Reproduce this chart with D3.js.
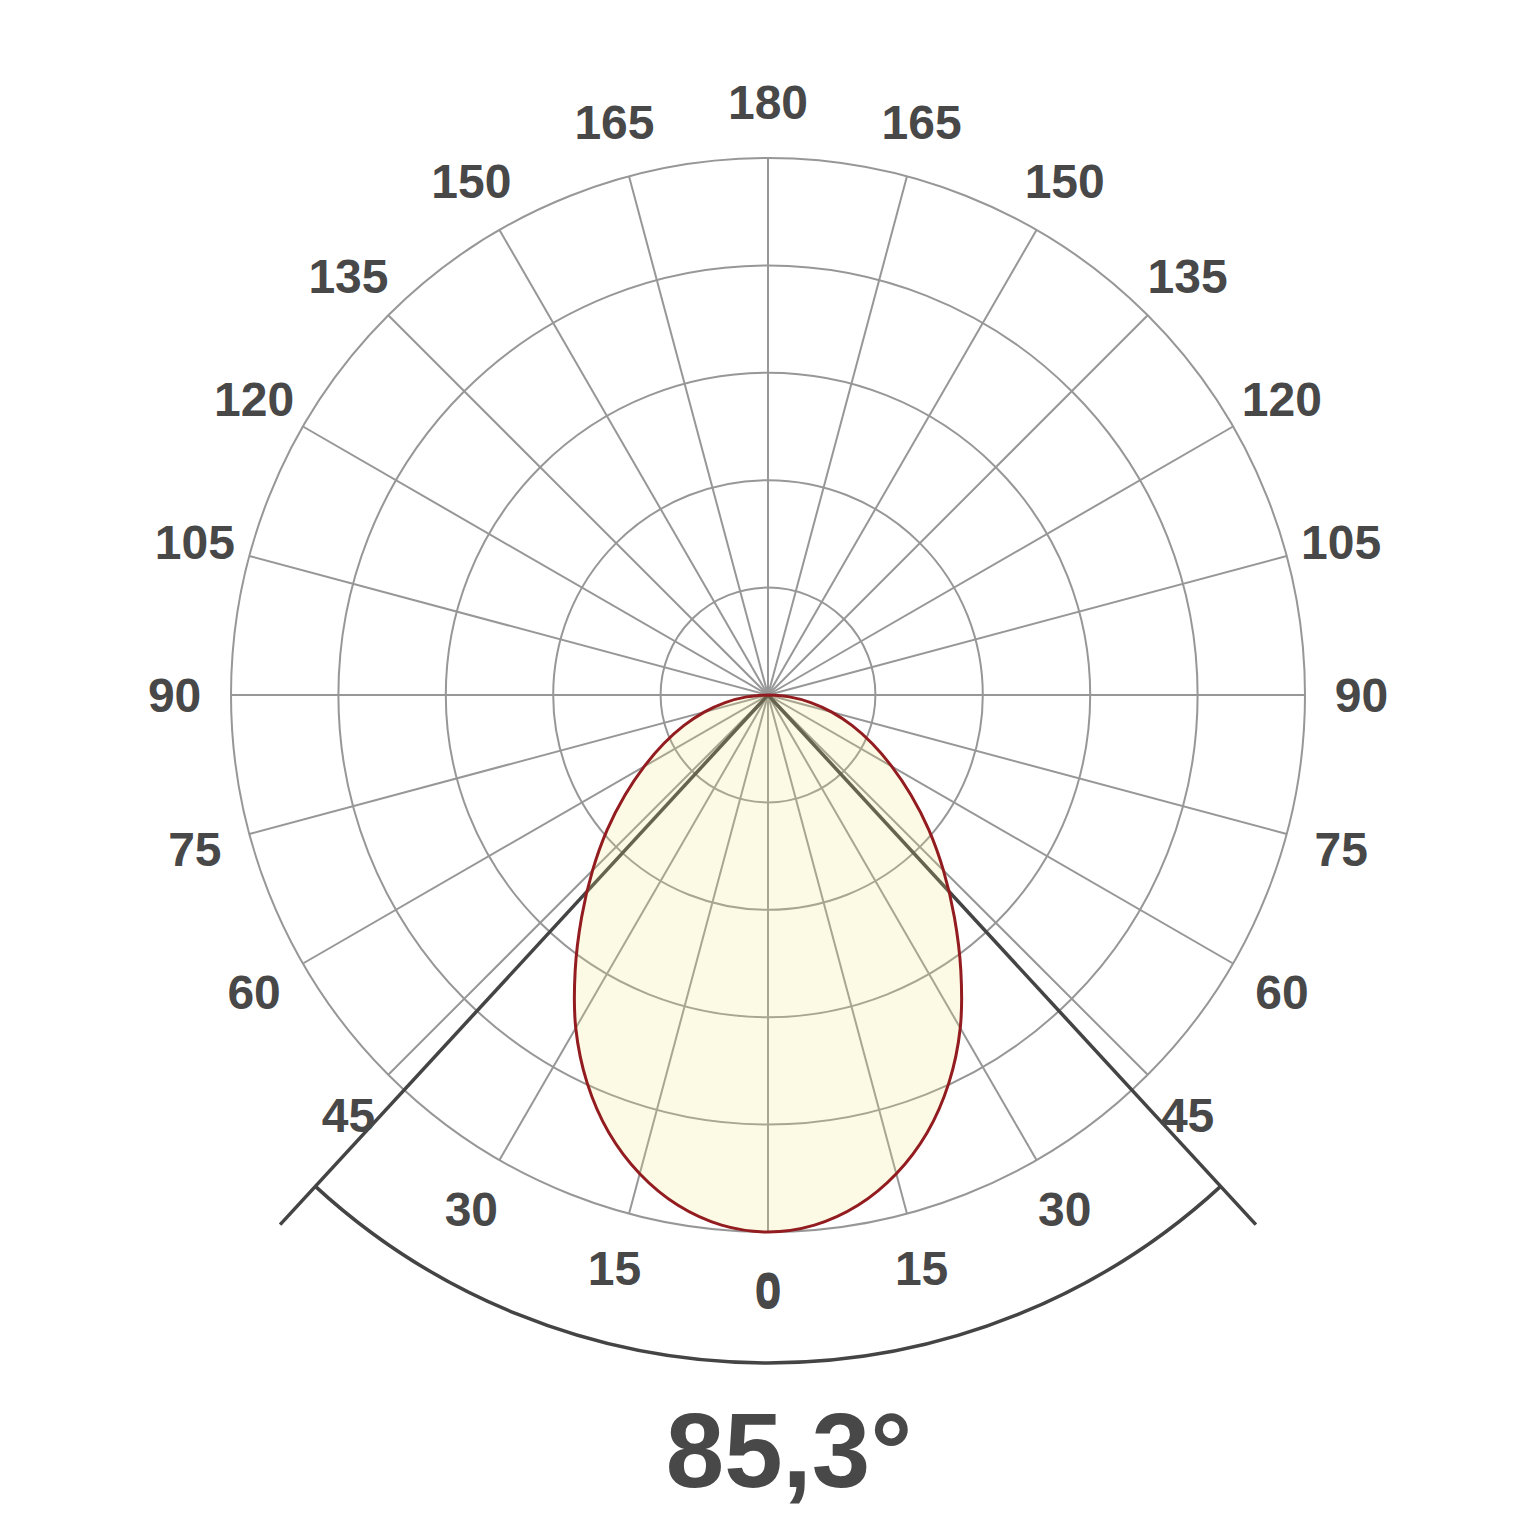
<!DOCTYPE html>
<html>
<head>
<meta charset="utf-8">
<script src="https://cdn.jsdelivr.net/npm/d3@7"></script>
<style>
  html, body { margin: 0; padding: 0; background: #ffffff; }
  svg { display: block; }
  text { font-family: "Liberation Sans", Arial, Helvetica, sans-serif; font-weight: bold; fill: #484848; }
</style>
</head>
<body>
<svg id="chart" width="1537" height="1537"></svg>
<script>
// ---- data ----
const curveAngles = [0, 5, 10, 15, 20, 25, 30, 35, 40, 45, 50, 55, 60, 65, 70, 75, 80, 85, 90];
const curveValues = [1.000, 0.991, 0.965, 0.923, 0.867, 0.797, 0.716, 0.626, 0.540, 0.462, 0.391, 0.325, 0.266, 0.214, 0.167, 0.123, 0.081, 0.040, 0.000];
const ringValues = [0.2, 0.4, 0.6, 0.8, 1.0];
const spokeAngles = d3.range(-165, 181, 15);
const tickLabels = spokeAngles.map(a => String(Math.abs(a)));
const beamAngle = 85.3;
const beamLabel = "85,3°";

// ---- layout ----
const cx = 768, cy = 695, R = 537;
const svg = d3.select("#chart");
const g = svg.append("g").attr("transform", `translate(${cx},${cy})`);

const rScale = d3.scaleLinear().domain([0, 1]).range([0, R]);
const aScale = d3.scaleLinear().domain([0, 360]).range([0, 2 * Math.PI]);
// angle theta (deg, 0 = downward, positive to the right) -> d3 radial angle
const toRad = t => Math.PI - aScale(t);
const px = (t, v) => rScale(v) * Math.sin(aScale(t));
const py = (t, v) => rScale(v) * Math.cos(aScale(t));

// grid rings
g.selectAll("circle.ring").data(ringValues).enter().append("circle")
  .attr("class", "ring")
  .attr("r", d => rScale(d))
  .attr("fill", "none").attr("stroke", "#979797").attr("stroke-width", 2);

// spokes
g.selectAll("line.spoke").data(spokeAngles).enter().append("line")
  .attr("class", "spoke")
  .attr("x1", 0).attr("y1", 0)
  .attr("x2", d => px(d, 1)).attr("y2", d => py(d, 1))
  .attr("stroke", "#979797").attr("stroke-width", 2);

// beam lines
const half = beamAngle / 2;
const beamLen = 1.341, arcR = 1.244;
g.selectAll("line.beam").data([-half, half]).enter().append("line")
  .attr("class", "beam")
  .attr("x1", 0).attr("y1", 0)
  .attr("x2", d => px(d, beamLen)).attr("y2", d => py(d, beamLen))
  .attr("stroke", "#444444").attr("stroke-width", 3.5);

// beam arc
const arc = d3.arc()
  .innerRadius(rScale(arcR)).outerRadius(rScale(arcR))
  .startAngle(toRad(half)).endAngle(toRad(-half));
g.append("path").attr("d", arc())
  .attr("fill", "none").attr("stroke", "#444444").attr("stroke-width", 3.5);

// light distribution curve (symmetric)
const pts = [];
for (let i = curveAngles.length - 1; i >= 0; i--) pts.push([-curveAngles[i], curveValues[i]]);
for (let i = 1; i < curveAngles.length; i++) pts.push([curveAngles[i], curveValues[i]]);
const line = d3.lineRadial()
  .angle(d => toRad(d[0]))
  .radius(d => rScale(d[1]))
  .curve(d3.curveCatmullRom.alpha(0.5));
g.append("path").attr("d", line(pts) + "Z")
  .attr("fill", "rgba(240,228,120,0.2)")
  .attr("stroke", "#921c1f").attr("stroke-width", 3);

// angle labels
const labelR = 1.105;
const fs = 48;
g.selectAll("text.tick").data(spokeAngles).enter().append("text")
  .attr("class", "tick")
  .attr("x", d => px(d, labelR))
  .attr("y", d => py(d, labelR) + fs * 0.358)
  .attr("text-anchor", "middle")
  .attr("font-size", fs)
  .text((d, i) => tickLabels[i]);
g.append("text")
  .attr("x", px(0, labelR)).attr("y", py(0, labelR) + fs * 0.358 + 3)
  .attr("text-anchor", "middle").attr("font-size", fs).text("0");

// beam angle label
const big = g.append("text")
  .attr("y", 1487 - cy)
  .attr("font-size", 105)
  .attr("text-anchor", "start")
  .text(beamLabel);
// center the numeric part (without degree sign)
const tmp = g.append("text").attr("font-size", 105).text(beamLabel.replace("°", ""));
const w = tmp.node().getComputedTextLength();
tmp.remove();
big.attr("x", -w / 2);
</script>
</body>
</html>
